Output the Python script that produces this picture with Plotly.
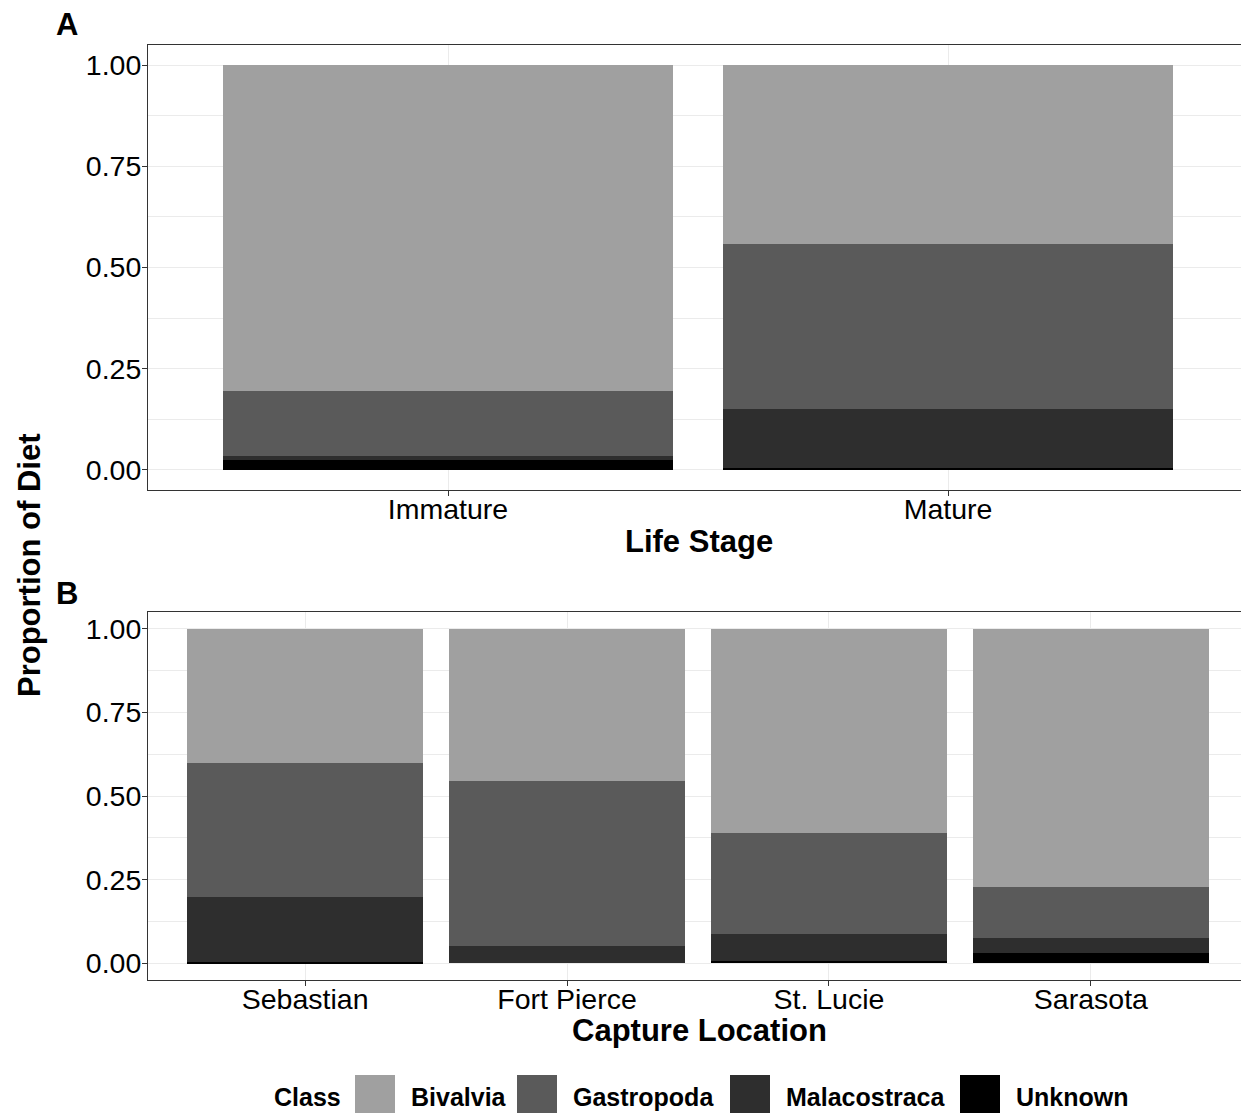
import plotly.graph_objects as go
from plotly.subplots import make_subplots

stages = ["Immature", "Mature"]
locations = ["Sebastian", "Fort Pierce", "St. Lucie", "Sarasota"]
classes = ["Bivalvia", "Gastropoda", "Malacostraca", "Unknown"]
colors = {"Bivalvia": "#A0A0A0", "Gastropoda": "#5A5A5A",
          "Malacostraca": "#2E2E2E", "Unknown": "#000000"}

stage_bivalvia = [0.805, 0.442]
stage_gastropoda = [0.161, 0.407]
stage_malacostraca = [0.011, 0.146]
stage_unknown = [0.023, 0.005]

loc_bivalvia = [0.400, 0.455, 0.611, 0.771]
loc_gastropoda = [0.401, 0.494, 0.301, 0.153]
loc_malacostraca = [0.195, 0.051, 0.081, 0.046]
loc_unknown = [0.004, 0.0, 0.007, 0.030]

stage_vals = {"Bivalvia": stage_bivalvia, "Gastropoda": stage_gastropoda,
              "Malacostraca": stage_malacostraca, "Unknown": stage_unknown}
loc_vals = {"Bivalvia": loc_bivalvia, "Gastropoda": loc_gastropoda,
            "Malacostraca": loc_malacostraca, "Unknown": loc_unknown}

OFF = 8  # page body margin
W, H = 1249 - OFF, 1113 - OFF
L, R, T, B = 148 - OFF, 1, 45 - OFF, 133
PW = W - L - R
PH = H - T - B


def px(x):
    return (x - OFF - L) / PW


def py(y):
    return (H - B - (y - OFF)) / PH


fig = make_subplots(rows=2, cols=1)

for cls in reversed(classes):
    fig.add_trace(go.Bar(x=stages, y=stage_vals[cls], name=cls,
                         marker=dict(color=colors[cls], line=dict(width=0)),
                         showlegend=False), row=1, col=1)
    fig.add_trace(go.Bar(x=locations, y=loc_vals[cls], name=cls,
                         marker=dict(color=colors[cls], line=dict(width=0)),
                         showlegend=False), row=2, col=1)

tickfont = dict(family="Liberation Sans, Arial, sans-serif", size=28.5, color="#000000")
yax = dict(range=[-0.05, 1.05], tickvals=[0, 0.25, 0.5, 0.75, 1.0],
           ticktext=["0.00", "0.25", "0.50", "0.75", "1.00"],
           showgrid=True, gridcolor="#EBEBEB", gridwidth=1.1,
           minor=dict(tickvals=[0.125, 0.375, 0.625, 0.875], showgrid=True,
                      gridcolor="#EBEBEB", gridwidth=0.6, ticks=""),
           zeroline=False, showline=True, mirror=True, linecolor="#333333",
           linewidth=1, ticks="outside", ticklen=5, tickcolor="#333333",
           tickfont=tickfont, ticklabelstandoff=-5)
xax = dict(showgrid=True, gridcolor="#EBEBEB", gridwidth=1.1, zeroline=False,
           showline=True, mirror=True, linecolor="#333333", linewidth=1,
           ticks="outside", ticklen=5, tickcolor="#333333", tickfont=tickfont,
           type="category", ticklabelstandoff=-11)

fig.update_layout(
    width=W, height=H, barmode="stack", bargap=0.1,
    plot_bgcolor="white", paper_bgcolor="white",
    margin=dict(l=L, r=R, t=T, b=B),
    xaxis=dict(xax, domain=[0, 1], range=[-0.6, 1.6]),
    xaxis2=dict(xax, domain=[0, 1], range=[-0.6, 3.6]),
    yaxis=dict(yax, domain=[py(490), 1]),
    yaxis2=dict(yax, domain=[0, py(612)]),
    font=dict(family="Liberation Sans, Arial, sans-serif"),
)

bold = dict(family="Liberation Sans, Arial, sans-serif", size=31, color="#000000")
ann = [
    dict(text="<b>A</b>", x=px(67), y=py(24)),
    dict(text="<b>B</b>", x=px(67), y=py(593)),
    dict(text="<b>Life Stage</b>", x=px(699), y=py(541)),
    dict(text="<b>Capture Location</b>", x=px(699), y=py(1030)),
    dict(text="<b>Proportion of Diet</b>", x=px(30), y=py(566), textangle=-90),
]
for a in ann:
    fig.add_annotation(xref="paper", yref="paper", showarrow=False,
                       xanchor="center", yanchor="middle", font=bold, **a)

# legend drawn at bottom
lfont = dict(family="Liberation Sans, Arial, sans-serif", size=25, color="#000000")
fig.add_annotation(xref="paper", yref="paper", showarrow=False, text="<b>Class</b>",
                   x=px(272), y=py(1097), xanchor="left", yanchor="middle", font=lfont)
sw_x = [355, 517, 730, 960]
for cls, sx in zip(classes, sw_x):
    fig.add_shape(type="rect", xref="paper", yref="paper",
                  x0=px(sx), x1=px(sx + 40), y0=py(1075), y1=py(1115),
                  fillcolor=colors[cls], line=dict(width=0), layer="above")
    fig.add_annotation(xref="paper", yref="paper", showarrow=False,
                       text="<b>" + cls + "</b>", x=px(sx + 54), y=py(1097),
                       xanchor="left", yanchor="middle", font=lfont)

fig.write_html("out.html")
